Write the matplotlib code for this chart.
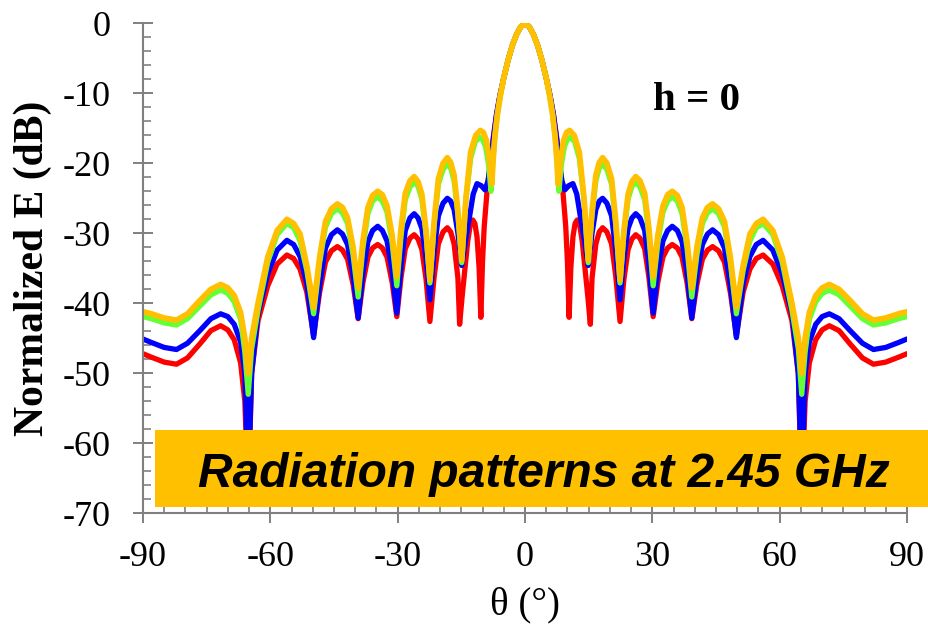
import numpy as np
import matplotlib
matplotlib.use("Agg")
import matplotlib.pyplot as plt
from matplotlib.patches import Rectangle

# right half of each pattern (theta >= 0), mirrored for theta < 0
theta_main_orange = [0, 1.0, 2.0, 3.0, 4.0, 5.0, 5.8, 6.5, 7.1, 7.5, 7.8, 8.4, 9.1, 9.8, 10.5, 11.6, 12.8, 13.9, 14.9]
db_main_orange = [0, -0.5, -1.6, -3.2, -5.3, -7.8, -10.3, -13.0, -16.2, -19.5, -23.0, -19.4, -16.7, -15.6, -15.3, -16.0, -18.4, -24.9, -33.8]

theta_main_green = [0, 1.0, 2.0, 3.0, 4.0, 5.0, 5.8, 6.5, 7.1, 7.6, 8.0, 8.6, 9.3, 10.0, 10.6, 11.7, 12.8, 13.9, 14.9]
db_main_green = [0, -0.5, -1.6, -3.2, -5.3, -7.8, -10.3, -13.0, -16.2, -20.0, -24.0, -20.1, -17.6, -16.6, -16.3, -16.9, -19.3, -25.2, -34.2]

theta_main_blue = [0, 1.0, 2.0, 3.0, 4.0, 5.0, 5.9, 6.7, 7.4, 8.0, 8.7, 9.4, 10.3, 11.3, 12.2, 13.0, 14.0, 14.9]
db_main_blue = [0, -0.5, -1.6, -3.2, -5.3, -7.8, -10.3, -13.0, -16.2, -19.5, -22.5, -23.8, -23.2, -22.9, -24.4, -27.4, -31.0, -34.6]

theta_main_red = [0, 1.0, 2.0, 3.0, 4.0, 5.0, 5.9, 6.7, 7.5, 8.2, 9.0, 9.6, 10.0, 10.4, 10.8, 11.3, 11.8, 12.3, 12.9, 13.5, 14.1, 14.8, 15.4]
db_main_red = [0, -0.5, -1.6, -3.2, -5.3, -7.8, -10.3, -13.0, -16.5, -20.0, -24.5, -29.0, -34.0, -42.0, -35.0, -30.5, -28.6, -28.1, -28.8, -31.2, -34.8, -39.0, -43.0]

theta_side = [15.8, 16.7, 17.5, 18.3, 19.3, 20.4, 21.4, 22.4,
              23.3, 24.3, 25.2, 26.1, 27.1, 28.2, 29.2, 30.2,
              31.3, 32.5, 33.6, 34.7, 35.9, 37.0, 38.2, 39.3,
              40.5, 41.8, 43.0, 44.2, 45.6, 47.0, 48.4, 49.8,
              51.4, 53.0, 54.5, 56.1, 58.4, 60.6, 62.9, 64.4, 65.2,
              66.0, 67.0, 68.5, 70.0, 71.7, 74.0, 76.6, 79.5, 82.1, 85.0, 88.0, 90.0]

db_side_orange = [-26.8, -21.7, -19.9, -19.2, -20.0, -22.2, -28.3, -36.7,
                  -29.6, -24.4, -22.6, -21.9, -22.5, -24.3, -29.3, -36.2,
                  -30.3, -26.1, -24.5, -24.0, -24.6, -26.3, -31.2, -37.8,
                  -32.0, -27.8, -26.3, -25.8, -26.5, -28.3, -33.5, -40.6,
                  -34.6, -30.1, -28.6, -28.0, -29.6, -33.4, -40.0, -45.0, -50.0,
                  -45.0, -41.3, -38.9, -37.8, -37.3, -38.0, -39.6, -41.5, -42.4, -42.1, -41.5, -41.2]

db_side_green = [-27.4, -22.5, -20.7, -20.1, -20.9, -23.0, -28.9, -37.1,
                 -30.2, -25.1, -23.3, -22.7, -23.4, -25.2, -30.4, -37.5,
                 -31.4, -27.0, -25.4, -24.8, -25.4, -27.2, -32.2, -39.1,
                 -33.1, -28.6, -27.1, -26.5, -27.2, -29.1, -34.3, -41.5,
                 -35.3, -31.1, -29.2, -28.6, -30.2, -34.1, -41.0, -46.5, -53.0,
                 -47.0, -42.3, -39.8, -38.6, -38.1, -38.8, -40.4, -42.2, -43.1, -42.8, -42.2, -41.9]

db_side_blue = [-30.0, -26.6, -25.4, -25.0, -25.7, -27.5, -32.5, -39.5,
                -33.6, -29.3, -27.8, -27.2, -27.8, -29.6, -34.6, -41.4,
                -35.4, -31.1, -29.6, -29.0, -29.6, -31.2, -35.8, -42.1,
                -36.1, -31.6, -30.1, -29.5, -30.2, -32.1, -37.5, -44.9,
                -37.2, -33.3, -31.6, -31.0, -32.4, -35.8, -41.5, -50.0, -66.0,
                -50.0, -45.5, -43.0, -41.9, -41.5, -42.2, -43.9, -45.7, -46.6, -46.3, -45.6, -45.1]

db_side_red = [-36.4, -31.5, -29.8, -29.2, -29.8, -31.5, -36.2, -42.6,
               -36.6, -32.3, -30.8, -30.2, -30.7, -32.2, -36.3, -41.9,
               -37.0, -33.4, -32.1, -31.6, -32.1, -33.4, -37.1, -42.2,
               -37.3, -33.7, -32.4, -31.9, -32.5, -34.1, -38.5, -44.6,
               -38.4, -35.1, -33.6, -33.1, -34.4, -37.5, -42.5, -50.0, -68.0,
               -54.0, -48.5, -45.2, -43.8, -43.2, -43.9, -45.8, -47.8, -48.7, -48.4, -47.7, -47.2]

xticks = [-90, -60, -30, 0, 30, 60, 90]
yticks = [0, -10, -20, -30, -40, -50, -60, -70]


def mirror(th, db):
    th = np.array(th)
    db = np.array(db)
    return np.concatenate([-th[::-1], th[1:]]), np.concatenate([db[::-1], db[1:]])


fig = plt.figure(figsize=(9.29, 6.28), dpi=100)
ax = fig.add_axes([0.1539, 0.1826, 0.8224, 0.7803])

curves = [
    (theta_main_red, db_main_red, db_side_red, "#FF0000", 3.8),
    (theta_main_blue, db_main_blue, db_side_blue, "#0000FF", 3.8),
    (theta_main_green, db_main_green, db_side_green, "#66FF33", 3.8),
    (theta_main_orange, db_main_orange, db_side_orange, "#FFC000", 4.1),
]
for th_m, db_m, db_s, col, lw in curves:
    x, y = mirror(th_m + theta_side, db_m + db_s)
    ax.plot(x, y, color=col, lw=lw, solid_joinstyle="round", solid_capstyle="round")

ax.set_xlim(-90, 90)
ax.set_ylim(-70, 0)
ax.set_xticks(xticks)
ax.set_yticks(yticks)
ax.set_xticks(np.arange(-90, 91, 5), minor=True)
ax.set_yticks(np.arange(-70, 1, 2), minor=True)
ax.set_xticklabels([str(v) for v in xticks])
ax.set_yticklabels([str(v) for v in yticks])

for s in ["top", "right"]:
    ax.spines[s].set_visible(False)
for s in ["left", "bottom"]:
    ax.spines[s].set_color("#808080")
    ax.spines[s].set_linewidth(1.5)

ax.tick_params(which="major", direction="inout", length=14, width=1.4, color="#808080",
               labelsize=26)
ax.tick_params(axis="x", which="major", pad=13)
ax.tick_params(axis="y", which="major", pad=16)
ax.tick_params(which="minor", direction="in", length=5.5, width=1.2, color="#808080")
for lab in ax.get_xticklabels() + ax.get_yticklabels():
    lab.set_fontfamily("Liberation Serif")

ax.set_xlabel("θ (°)", fontsize=28, family="Liberation Serif", labelpad=9)
ax.set_ylabel("Normalized E (dB)", fontsize=30, family="Liberation Serif",
              fontweight="bold", labelpad=8)

ax.text(40.5, -11, "h = 0", fontsize=29.5, family="Liberation Serif", fontweight="bold",
        ha="center", va="center")

box = Rectangle((155 / 929, (628 - 507) / 628), 1 - 155 / 929, 77 / 628,
                transform=fig.transFigure, facecolor="#FFC000", edgecolor="none",
                zorder=10, clip_on=False)
fig.patches.append(box)
fig.text(543.5 / 929, (628 - 487) / 628, "Radiation patterns at 2.45 GHz", fontsize=34.5,
         family="Liberation Sans", fontweight="bold", fontstyle="italic",
         ha="center", va="baseline", zorder=11)

fig.savefig("out.png", dpi=100)
